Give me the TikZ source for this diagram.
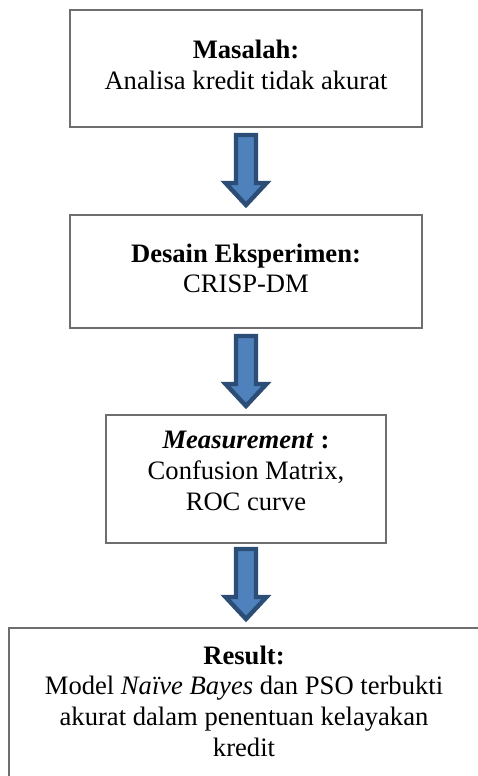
\documentclass[tikz,border=0pt]{standalone}
\usepackage{fontspec}
\setmainfont{Liberation Serif}
\definecolor{arrowfill}{HTML}{4F81BD}
\definecolor{arrowline}{HTML}{2C4D75}
\definecolor{boxline}{HTML}{6E6E6E}
\newcommand\pxu{0.451pt}
\begin{document}
\begin{tikzpicture}[x=0.451pt,y=-0.451pt,
  box/.style={draw=boxline, line width=0.9pt, fill=white, inner sep=0pt},
  txt/.style={align=center, font=\fontsize{12}{13.8}\selectfont, inner sep=0pt},
  barrow/.style={fill=arrowfill, draw=arrowline, line width=2pt, line join=miter}]
\useasboundingbox (0,0) rectangle (478,776);
\clip (0,0) rectangle (478,776);
% boxes
\node[box, minimum width=352*\pxu, minimum height=117*\pxu] (b1) at (246,68.5) {};
\node[box, minimum width=352*\pxu, minimum height=113*\pxu] (b2) at (246,271.5) {};
\node[box, minimum width=280*\pxu, minimum height=128*\pxu] (b3) at (246,479) {};
\node[box, minimum width=491*\pxu, minimum height=172*\pxu] (b4) at (254.5,714) {};
% texts
\node[txt] (t1) at (246,65) {\textbf{Masalah:}\\Analisa kredit tidak akurat};
\node[txt] (t2) at (246,268.5) {\textbf{Desain Eksperimen:}\\CRISP-DM};
\node[txt] (t3) at (246,471) {\textbf{\textit{Measurement} :}\\Confusion Matrix,\\ROC curve};
\node[txt] (t4) at (244,701) {\textbf{Result:}\\Model \textit{Naïve Bayes} dan PSO terbukti\\akurat dalam penentuan kelayakan\\kredit};
% block arrows
\draw[barrow] ([shift={(-10,7)}]b1.south) -- ++(20,0) -- ++(0,48) -- ++(10.5,0) -- ++(-20.5,22) -- ++(-20.5,-22) -- ++(10.5,0) -- cycle;
\draw[barrow] ([shift={(-10,7)}]b2.south) -- ++(20,0) -- ++(0,48) -- ++(10.5,0) -- ++(-20.5,22) -- ++(-20.5,-22) -- ++(10.5,0) -- cycle;
\draw[barrow] ([shift={(-10,5)}]b3.south) -- ++(20,0) -- ++(0,48) -- ++(10.5,0) -- ++(-20.5,22) -- ++(-20.5,-22) -- ++(10.5,0) -- cycle;
\end{tikzpicture}
\end{document}
